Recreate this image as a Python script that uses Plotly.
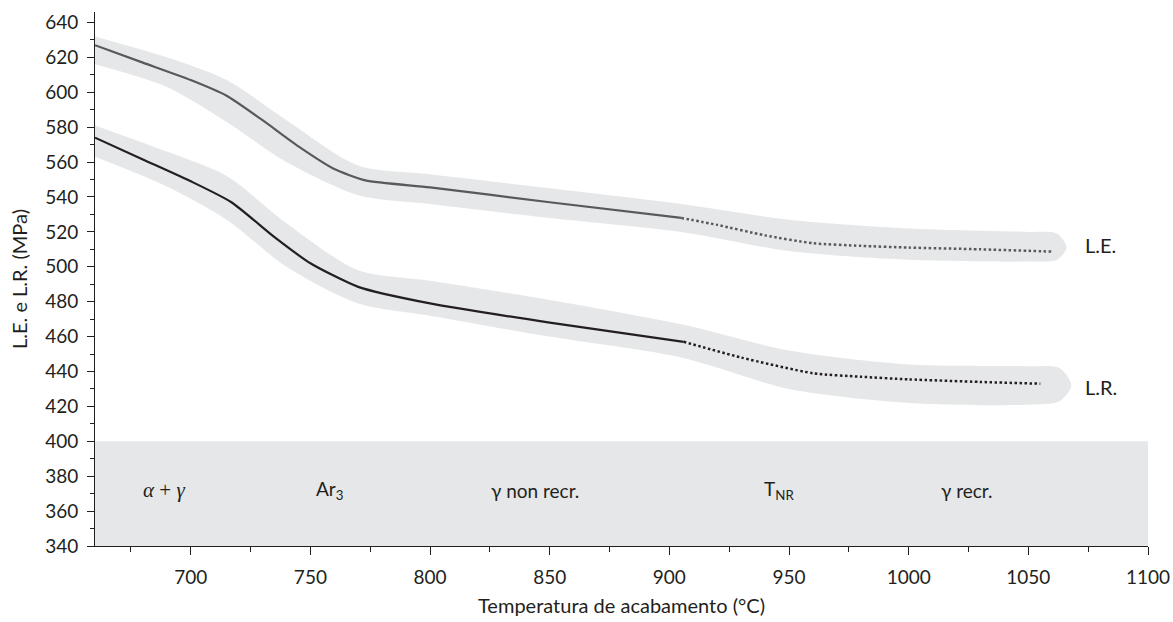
import plotly.graph_objects as go

# ---- data ----
le_solid_x = [660, 680, 700, 715, 730, 745, 760, 773, 800, 850, 905]
le_solid_y = [627, 617, 607, 598, 584, 569, 556, 549.5, 545.5, 537, 528]
le_dot_x = [905, 920, 940, 960, 980, 1000, 1030, 1060]
le_dot_y = [528, 524, 518, 513.5, 512, 511, 510, 508.7]

lr_solid_x = [660, 680, 700, 717, 735, 750, 770, 800, 850, 906]
lr_solid_y = [574, 561.5, 549, 537, 517, 502, 488.5, 479, 468, 457]
lr_dot_x = [906, 930, 960, 980, 1000, 1030, 1055]
lr_dot_y = [457, 448, 439, 437, 435.5, 434, 433]

le_band_x = [660, 690, 715, 740, 770, 800, 850, 905, 950, 1000, 1050, 1062]
le_band_hi = [632, 620, 607, 584, 558, 553, 545, 536, 527, 522, 520, 519]
le_band_lo = [616, 603, 583, 560, 541, 536, 528, 520, 509, 504, 503, 504]
le_cap = (1066, 511)

lr_band_x = [660, 690, 715, 740, 770, 800, 850, 905, 950, 1000, 1050, 1063]
lr_band_hi = [581, 566, 552, 525, 498, 492, 481, 467, 452, 444, 443, 442]
lr_band_lo = [563, 546, 527, 500, 479, 472, 460, 448, 430, 422, 421, 423]
lr_cap = (1068, 432)

zone_x = [689, 758, 844, 946, 1024]
zone_labels = ["<i>α</i> + <i>γ</i>", "Ar<sub>3</sub>", "γ non recr.", "T<sub>NR</sub>", "γ recr."]
zone_y = 372

x_ticks = [700, 750, 800, 850, 900, 950, 1000, 1050, 1100]
y_ticks = list(range(340, 641, 20))

BAND = "#e6e7e8"
FONT = "Lato"
TXT = "#231f20"

fig = go.Figure()


def band(xs, hi, lo, cap):
    px = xs + [cap[0]] + xs[::-1]
    py = hi + [cap[1]] + lo[::-1]
    return go.Scatter(x=px, y=py, fill="toself", fillcolor=BAND, mode="lines",
                      line=dict(width=0, color=BAND, shape="spline", smoothing=0.8),
                      hoverinfo="skip", showlegend=False)


fig.add_trace(band(le_band_x, le_band_hi, le_band_lo, le_cap))
fig.add_trace(band(lr_band_x, lr_band_hi, lr_band_lo, lr_cap))

fig.add_trace(go.Scatter(x=le_solid_x, y=le_solid_y, mode="lines",
                         line=dict(color="#58595b", width=2.2, shape="spline", smoothing=0.6),
                         showlegend=False))
fig.add_trace(go.Scatter(x=le_dot_x, y=le_dot_y, mode="lines",
                         line=dict(color="#58595b", width=2.5, dash="2.5px,2.5px", shape="spline", smoothing=0.6),
                         showlegend=False))
fig.add_trace(go.Scatter(x=lr_solid_x, y=lr_solid_y, mode="lines",
                         line=dict(color=TXT, width=2.2, shape="spline", smoothing=0.6),
                         showlegend=False))
fig.add_trace(go.Scatter(x=lr_dot_x, y=lr_dot_y, mode="lines",
                         line=dict(color=TXT, width=2.5, dash="2.5px,2.5px", shape="spline", smoothing=0.6),
                         showlegend=False))

# bottom phase region
fig.add_shape(type="rect", xref="x", yref="y", x0=660, x1=1100, y0=340, y1=400,
              fillcolor=BAND, line=dict(width=0), layer="below")

for zx, zl in zip(zone_x, zone_labels):
    fam = "Liberation Serif" if "α" in zl else FONT
    size = 21 if "α" in zl else 19
    fig.add_annotation(x=zx, y=zone_y, text=zl, showarrow=False,
                       font=dict(family=fam, size=size, color=TXT))

fig.add_annotation(x=1073, y=512.5, text="L.E.", showarrow=False, xanchor="left",
                   font=dict(family=FONT, size=20, color=TXT))
fig.add_annotation(x=1073, y=431, text="L.R.", showarrow=False, xanchor="left",
                   font=dict(family=FONT, size=20, color=TXT))

fig.update_layout(
    width=1173, height=622,
    margin=dict(l=95, r=25, t=12, b=76),
    paper_bgcolor="white", plot_bgcolor="white",
    font=dict(family=FONT, size=19, color=TXT),
    showlegend=False,
)
fig.update_xaxes(range=[660, 1100], tickvals=x_ticks, ticktext=[str(v) for v in x_ticks],
                 showgrid=False, zeroline=False, showline=True, linecolor=TXT, linewidth=1,
                 ticks="outside", ticklen=8, tickcolor=TXT, tickwidth=1,
                 tickfont=dict(size=19), ticklabelstandoff=6,
                 minor=dict(dtick=25, tick0=0, ticks="outside", ticklen=5, tickcolor=TXT),
                 title=dict(text="Temperatura de acabamento (°C)", standoff=12,
                            font=dict(family=FONT, size=20)),
                 automargin=False)
fig.update_yaxes(range=[340, 646], tickvals=y_ticks,
                 showgrid=False, zeroline=False, showline=True, linecolor=TXT, linewidth=1,
                 ticks="outside", ticklen=7, tickcolor=TXT, tickwidth=1,
                 tickfont=dict(size=19), ticklabelstandoff=5,
                 minor=dict(dtick=10, tick0=0, ticks="outside", ticklen=4, tickcolor=TXT),
                 title=dict(text="L.E. e L.R. (MPa)", standoff=12,
                            font=dict(family=FONT, size=20)),
                 automargin=False)

fig.write_html("out.html")
